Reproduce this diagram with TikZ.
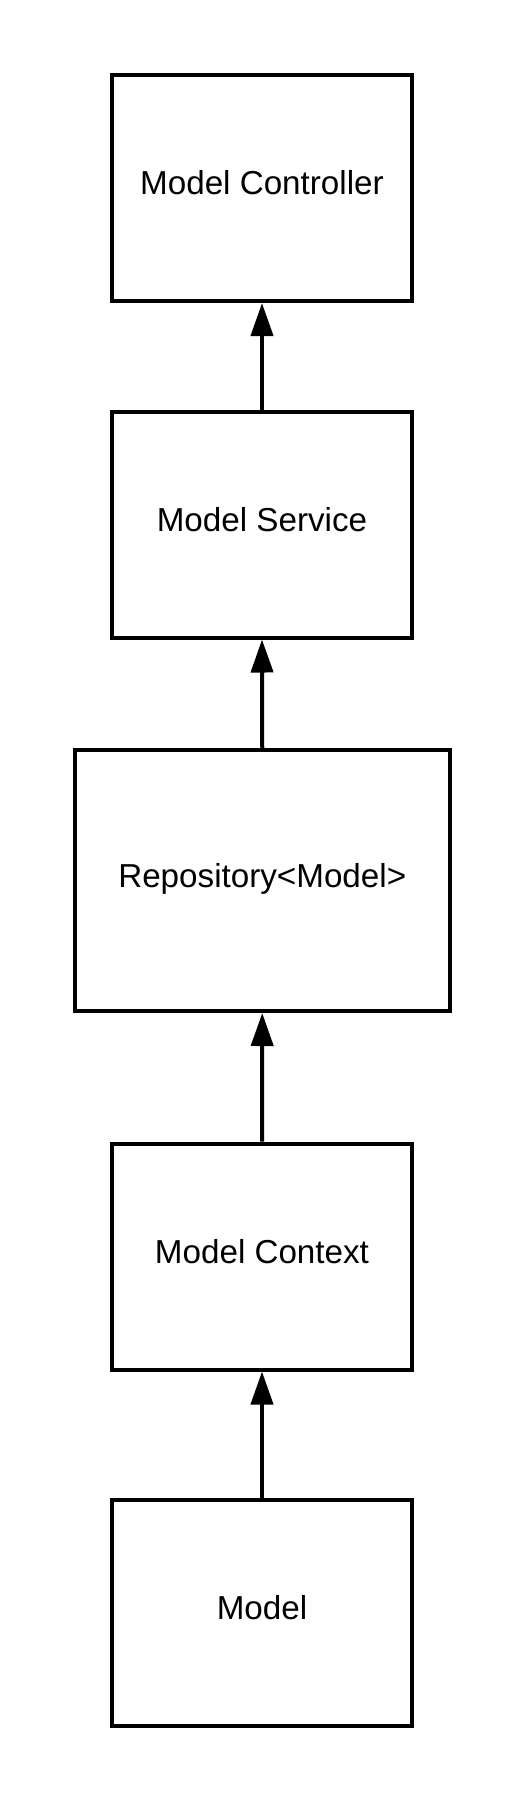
\documentclass[tikz,border=0pt]{standalone}
\usepackage{fontspec}
\setmainfont{Liberation Sans}
\usetikzlibrary{arrows.meta}
\begin{document}
\begin{tikzpicture}[x=1pt,y=-1pt,
  box/.style={draw=black,line width=4pt,fill=white,minimum width=300pt,minimum height=226pt,inner sep=0pt,text height=13pt,text depth=0pt,font=\fontsize{33.2}{40}\selectfont},
  conn/.style={line width=4pt,-{Triangle[length=33pt,width=22pt]}}]
\useasboundingbox (0,0) rectangle (525,1802);
\node[box] (ctrl) at (262,188) {Model Controller};
\node[box] (svc) at (262,524.5) {Model Service};
\node[box,minimum width=374.5pt,minimum height=261pt] (repo) at (262.25,880.5) {Repository<Model>};
\node[box] (ctx) at (262,1256.5) {Model Context};
\node[box] (mdl) at (262,1613) {Model};
\draw[conn] (svc.north) -- (ctrl.south);
\draw[conn] (repo.north) -- (svc.south);
\draw[conn] (ctx.north) -- (repo.south);
\draw[conn] (mdl.north) -- (ctx.south);
\end{tikzpicture}
\end{document}
